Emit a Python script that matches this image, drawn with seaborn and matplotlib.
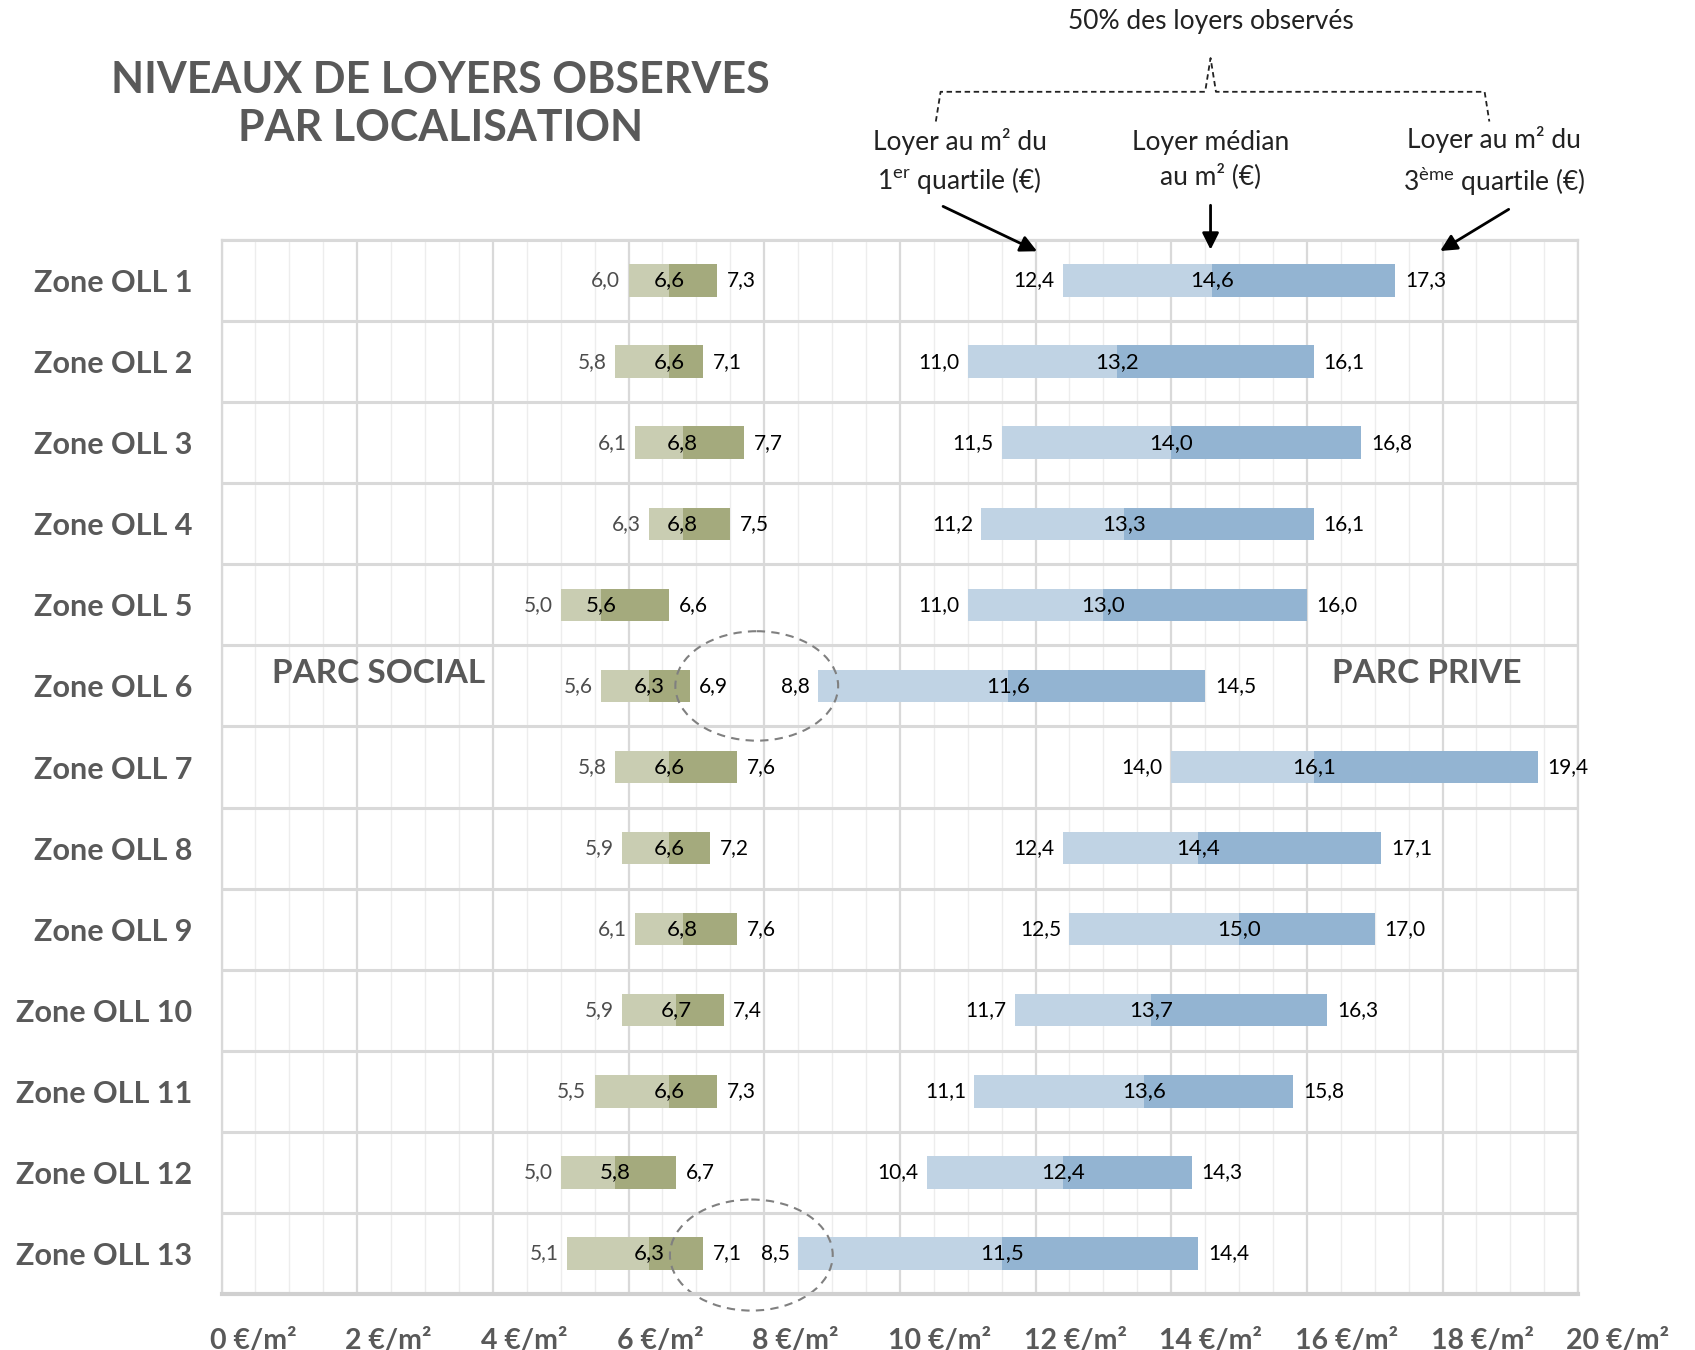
import numpy as np
import pandas as pd
import matplotlib.pyplot as plt
import matplotlib.transforms as mtransforms
from matplotlib.patches import Ellipse
import seaborn as sns

zones = [f"Zone OLL {i}" for i in range(1, 14)]

social_q1 = [6.0, 5.8, 6.1, 6.3, 5.0, 5.6, 5.8, 5.9, 6.1, 5.9, 5.5, 5.0, 5.1]
social_med = [6.6, 6.6, 6.8, 6.8, 5.6, 6.3, 6.6, 6.6, 6.8, 6.7, 6.6, 5.8, 6.3]
social_q3 = [7.3, 7.1, 7.7, 7.5, 6.6, 6.9, 7.6, 7.2, 7.6, 7.4, 7.3, 6.7, 7.1]

prive_q1 = [12.4, 11.0, 11.5, 11.2, 11.0, 8.8, 14.0, 12.4, 12.5, 11.7, 11.1, 10.4, 8.5]
prive_med = [14.6, 13.2, 14.0, 13.3, 13.0, 11.6, 16.1, 14.4, 15.0, 13.7, 13.6, 12.4, 11.5]
prive_q3 = [17.3, 16.1, 16.8, 16.1, 16.0, 14.5, 19.4, 17.1, 17.0, 16.3, 15.8, 14.3, 14.4]

x_ticks = list(range(0, 21, 2))
x_tick_labels = [f"{t} €/m²" for t in x_ticks]

gray = '#595959'

sns.set_theme(style='white')
plt.rcParams['font.family'] = ['Lato', 'DejaVu Sans']
plt.rcParams['mathtext.fontset'] = 'custom'
plt.rcParams['mathtext.rm'] = 'Lato'

df = pd.DataFrame({'zone': zones,
                   's_q1': social_q1, 's_med': social_med, 's_q3': social_q3,
                   'p_q1': prive_q1, 'p_med': prive_med, 'p_q3': prive_q3})

fig = plt.figure(figsize=(16.95, 13.5), dpi=100)
ax = fig.add_axes([0.1307, 0.0415, 0.8004, 0.7807])


def segment(start, end, color):
    sns.barplot(x=df[end] - df[start], y=df['zone'], left=df[start].values,
                orient='h', color=color, width=0.4, errorbar=None,
                linewidth=0, saturation=1, ax=ax)


segment('s_q1', 's_med', '#c9cdb2')
segment('s_med', 's_q3', '#a4aa7d')
segment('p_q1', 'p_med', '#c0d3e4')
segment('p_med', 'p_q3', '#93b4d2')

ax.set_xlim(0, 20)
ax.set_ylim(12.5, -0.5)
ax.set_xlabel('')
ax.set_ylabel('')

# grid
ax.set_xticks(x_ticks)
ax.set_xticks(np.arange(0, 20.01, 0.5), minor=True)
ax.set_yticks(np.arange(-0.5, 12.6, 1), minor=True)
ax.set_axisbelow(True)
ax.xaxis.grid(True, which='major', color='#d9d9d9', lw=1.6)
ax.xaxis.grid(True, which='minor', color='#ededed', lw=1.0)
ax.yaxis.grid(True, which='minor', color='#d9d9d9', lw=2.2)
ax.yaxis.grid(False, which='major')

ax.set_yticks(range(len(zones)))
ax.set_yticklabels(zones, fontsize=22, fontweight='bold', color=gray)
ax.tick_params(axis='x', which='both', length=0, pad=24)
ax.tick_params(axis='y', which='both', length=0, pad=21)
ax.set_xticklabels(x_tick_labels, fontsize=20.5, fontweight='bold', color=gray, ha='left')
shift = mtransforms.ScaledTranslation(-0.12, 0, fig.dpi_scale_trans)
for lab in ax.get_xticklabels():
    lab.set_transform(lab.get_transform() + shift)

for side in ['left', 'right', 'top']:
    ax.spines[side].set_color('#d9d9d9')
    ax.spines[side].set_linewidth(1.6)
ax.spines['bottom'].set_color('#d0d0d0')
ax.spines['bottom'].set_linewidth(3)


def fmt(v):
    return f"{v:.1f}".replace('.', ',')


for i in range(len(zones)):
    ax.annotate(fmt(social_q1[i]), (social_q1[i], i), xytext=(-6, 0), textcoords='offset points',
                ha='right', va='center', fontsize=15, color='#4d4d4d')
    ax.annotate(fmt(social_med[i]), (social_med[i], i), ha='center', va='center',
                fontsize=16, color='black')
    ax.annotate(fmt(social_q3[i]), (social_q3[i], i), xytext=(7, 0), textcoords='offset points',
                ha='left', va='center', fontsize=15, color='black')
    ax.annotate(fmt(prive_q1[i]), (prive_q1[i], i), xytext=(-6, 0), textcoords='offset points',
                ha='right', va='center', fontsize=15, color='black')
    ax.annotate(fmt(prive_med[i]), (prive_med[i], i), ha='center', va='center',
                fontsize=16, color='black')
    ax.annotate(fmt(prive_q3[i]), (prive_q3[i], i), xytext=(7, 0), textcoords='offset points',
                ha='left', va='center', fontsize=15, color='black')

ax.text(2.31, 4.85, 'PARC SOCIAL', ha='center', va='center', fontsize=24, fontweight='bold', color=gray)
ax.text(17.77, 4.85, 'PARC PRIVE', ha='center', va='center', fontsize=24, fontweight='bold', color=gray)

for cx, cy, h in [(7.89, 5, 1.35), (7.81, 12.02, 1.37)]:
    ax.add_patch(Ellipse((cx, cy), 2.4, h, fill=False, ls=(0, (4, 3)), lw=1.5,
                         edgecolor='#808080', clip_on=False))

# title
fig.text(0.260, 0.941, 'NIVEAUX DE LOYERS OBSERVES', ha='center', va='center',
         fontsize=31, fontweight='bold', color=gray)
fig.text(0.260, 0.905, 'PAR LOCALISATION', ha='center', va='center',
         fontsize=31, fontweight='bold', color=gray)

# explanatory header
tr = mtransforms.blended_transform_factory(ax.transData, fig.transFigure)
ax.text(14.58, 0.984, '50% des loyers observés', transform=tr, ha='center', va='center',
        fontsize=19, color='#222222')
brace_x = [10.53, 10.6, 14.5, 14.58, 14.66, 18.62, 18.69]
brace_y = [0.910, 0.932, 0.932, 0.957, 0.932, 0.932, 0.910]
ax.plot(brace_x, brace_y, transform=tr, color='#222222', lw=1.3, ls=(0, (3, 2)), clip_on=False)

ax.text(10.88, 0.880, 'Loyer au m² du\n1$^{\\mathrm{er}}$ quartile (€)', transform=tr,
        ha='center', va='center', fontsize=19, color='#222222', linespacing=1.4)
ax.text(14.58, 0.882, 'Loyer médian\nau m² (€)', transform=tr,
        ha='center', va='center', fontsize=19, color='#222222', linespacing=1.4)
ax.text(18.76, 0.880, 'Loyer au m² du\n3$^{\\mathrm{ème}}$ quartile (€)', transform=tr,
        ha='center', va='center', fontsize=19, color='#222222', linespacing=1.4)

arrows = [((10.6, 0.848), (12.06, 0.813)),
          ((14.58, 0.850), (14.58, 0.813)),
          ((19.01, 0.846), (17.93, 0.813))]
for start, end in arrows:
    ax.annotate('', xy=end, xycoords=tr, xytext=start, textcoords=tr,
                arrowprops=dict(arrowstyle='-|>', color='black', lw=2, mutation_scale=25),
                annotation_clip=False)

fig.savefig('out.png', dpi=100)
